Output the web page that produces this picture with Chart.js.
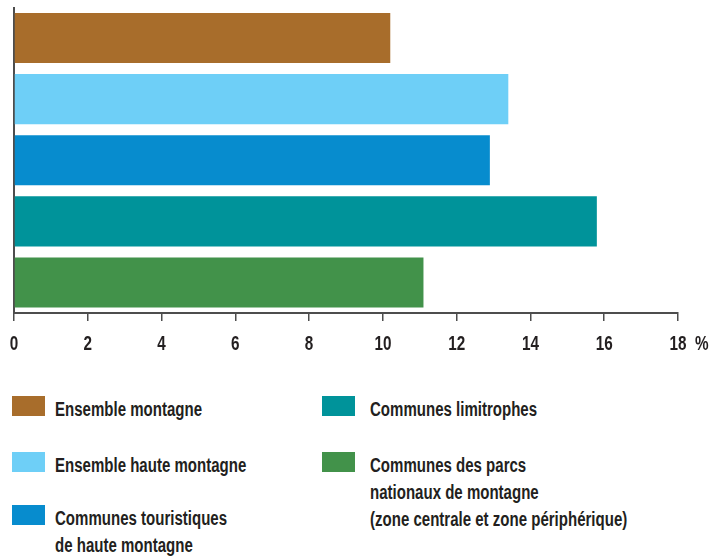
<!DOCTYPE html>
<html>
<head>
<meta charset="utf-8">
<script src="https://cdn.jsdelivr.net/npm/chart.js@4/dist/chart.umd.min.js"></script>
<style>
  html, body { margin: 0; padding: 0; background: #ffffff; }
  #wrap { position: relative; width: 725px; height: 558px; overflow: hidden; }
  #chartBox { position: absolute; left: 0; top: 0; width: 725px; height: 360px; }
  .sw { position: absolute; width: 33px; height: 20px; }
  .lt { position: absolute; font-family: "Liberation Sans", Arial, sans-serif;
        font-weight: bold; font-size: 19.5px; line-height: 27px; color: #231f20; white-space: pre;
        transform-origin: 0 0; }
</style>
</head>
<body>
<div id="wrap">
  <div id="chartBox"><canvas id="c"></canvas></div>
  <div id="legend"></div>
</div>
<script>
// ---- data ----
const categories = [
  "Ensemble montagne",
  "Ensemble haute montagne",
  "Communes touristiques\nde haute montagne",
  "Communes limitrophes",
  "Communes des parcs\nnationaux de montagne\n(zone centrale et zone périphérique)"
];
const values = [10.2, 13.4, 12.9, 15.8, 11.1];
const barColors = ["#a86d2b", "#6ecff7", "#078cce", "#00939a", "#42924a"];
const tickValues = [0, 2, 4, 6, 8, 10, 12, 14, 16, 18];
const unitLabel = "%";

const FONT = '"Liberation Sans", Arial, sans-serif';
const TEXT = "#231f20";
const AXIS = "#4d4d4d";

// horizontal condensing factors (the original uses a condensed face)
const mctx = document.createElement("canvas").getContext("2d");
mctx.font = "bold 21px " + FONT;
const TICK_SX = 17 / mctx.measureText("10").width;
mctx.font = "bold 19.5px " + FONT;
const LEG_SX = 147 / mctx.measureText("Ensemble montagne").width;

const tickLabelPlugin = {
  id: "tickLabelPlugin",
  afterDraw(chart) {
    const x = chart.scales.x;
    const ctx = chart.ctx;
    const y = chart.chartArea.bottom + 37;
    ctx.save();
    ctx.font = "bold 21px " + FONT;
    ctx.fillStyle = TEXT;
    ctx.textBaseline = "alphabetic";
    tickValues.forEach(v => {
      ctx.save();
      ctx.translate(x.getPixelForValue(v), y);
      ctx.scale(TICK_SX, 1);
      ctx.textAlign = "center";
      ctx.fillText(String(v), 0, 0);
      ctx.restore();
    });
    ctx.save();
    ctx.translate(x.getPixelForValue(tickValues[tickValues.length - 1]) + 17, y);
    ctx.scale(TICK_SX, 1);
    ctx.textAlign = "left";
    ctx.fillText(unitLabel, 0, 0);
    ctx.restore();
    ctx.restore();
  }
};

new Chart(document.getElementById("c"), {
  type: "bar",
  data: {
    labels: categories,
    datasets: [{
      data: values,
      backgroundColor: barColors,
      borderWidth: 0,
      barPercentage: 0.82,
      categoryPercentage: 1.0
    }]
  },
  options: {
    indexAxis: "y",
    responsive: true,
    maintainAspectRatio: false,
    animation: false,
    layout: { padding: { left: 14, right: 47, top: 7.5, bottom: 0 } },
    plugins: { legend: { display: false }, tooltip: { enabled: false } },
    scales: {
      x: {
        min: 0, max: 18,
        afterFit(s) { s.height = 47; },
        afterBuildTicks(s) { s.ticks = tickValues.map(v => ({ value: v })); },
        grid: { display: true, drawOnChartArea: false, drawTicks: true, tickLength: 8, color: AXIS, lineWidth: 1.5 },
        border: { display: true, color: AXIS, width: 2 },
        ticks: { display: false }
      },
      y: {
        afterFit(s) { s.width = 0; },
        grid: { display: false },
        border: { display: true, color: AXIS, width: 2 },
        ticks: { display: false }
      }
    }
  },
  plugins: [tickLabelPlugin]
});

// ---- HTML legend ----
const legendPos = [
  [12, 396, 55], [12, 452, 55], [12, 505, 55], [322, 396, 370], [322, 452, 370]
];
const lg = document.getElementById("legend");
categories.forEach((name, i) => {
  const [sx, sy, tx] = legendPos[i];
  const sw = document.createElement("div");
  sw.className = "sw";
  sw.style.left = sx + "px"; sw.style.top = sy + "px";
  sw.style.background = barColors[i];
  lg.appendChild(sw);
  const t = document.createElement("div");
  t.className = "lt";
  t.style.left = tx + "px"; t.style.top = sy + "px";
  t.style.transform = "scaleX(" + LEG_SX + ")";
  t.textContent = name;
  lg.appendChild(t);
});
</script>
</body>
</html>
